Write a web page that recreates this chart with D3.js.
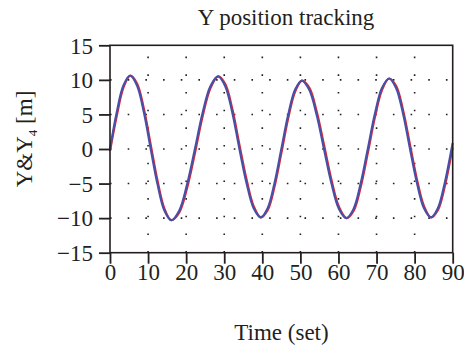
<!DOCTYPE html>
<html>
<head>
<meta charset="utf-8">
<script src="https://cdn.jsdelivr.net/npm/d3@7"></script>
<style>
  html, body { margin: 0; padding: 0; background: #fff; }
  svg { display: block; }
  text { font-family: "Liberation Serif", "Times New Roman", serif; fill: #231f20; }
</style>
</head>
<body>
<svg id="chart" width="464" height="349"></svg>
<script>
// ---- data ----
const timeSec = [0, 1.77, 3.53, 5.3, 7.1, 8.9, 10.7, 12.5, 14.3, 16.1, 18.17, 20.23, 22.3, 24.33, 26.37, 28.4, 30.27, 32.13, 34.0, 35.87, 37.73, 39.6, 41.4, 43.2, 45.0, 46.8, 48.6, 50.4, 52.33, 54.27, 56.2, 58.17, 60.13, 62.1, 63.97, 65.83, 67.7, 69.57, 71.43, 73.3, 75.13, 76.97, 78.8, 80.63, 82.47, 84.3, 86.1, 87.9, 89.7, 90];
const yActual = [0, 5.3, 9.18, 10.6, 9.18, 5.3, 0, -5.15, -8.92, -10.3, -8.92, -5.15, 0, 5.25, 9.09, 10.5, 9.09, 5.25, 0, -4.95, -8.57, -9.9, -8.57, -4.95, 0, 4.95, 8.57, 9.9, 8.57, 4.95, 0, -5.0, -8.66, -10.0, -8.66, -5.0, 0, 5.1, 8.83, 10.2, 8.83, 5.1, 0, -4.95, -8.57, -9.9, -8.57, -4.95, 0, 0.86];
const yRef = [-0.3, 4.78, 8.88, 10.6, 9.48, 5.82, 0.6, -4.63, -8.62, -10.3, -9.22, -5.67, -0.6, 4.73, 8.79, 10.5, 9.39, 5.77, 0.6, -4.43, -8.27, -9.9, -8.87, -5.47, -0.6, 4.43, 8.27, 9.9, 8.87, 5.47, 0.6, -4.48, -8.36, -10.0, -8.96, -5.52, -0.6, 4.58, 8.53, 10.2, 9.13, 5.62, 0.6, -4.43, -8.27, -9.9, -8.87, -5.47, -0.6, 0.26];
const xTicks = [0, 10, 20, 30, 40, 50, 60, 70, 80, 90];
const yTicks = [-15, -10, -5, 0, 5, 10, 15];
const xGrid = [10, 20, 30, 40, 50, 60, 70, 80];
const yGrid = [-10, -5, 0, 5, 10];
const titleText = "Y position tracking";
const xLabelText = "Time (set)";

// ---- layout ----
const svg = d3.select("#chart");
const L = 110, R = 452.7, T = 45.3, B = 252.7;
const x = d3.scaleLinear().domain([0, 90]).range([L, R]);
const y = d3.scaleLinear().domain([-15, 15]).range([B, T]);
const ink = "#231f20";
const dash = "1.6,16.08";

// dotted grid
const g = svg.append("g");
g.selectAll(".hg").data(yGrid).enter().append("line")
  .attr("x1", L).attr("x2", R).attr("y1", d => y(d)).attr("y2", d => y(d))
  .attr("stroke", ink).attr("stroke-width", 1.6).attr("stroke-dasharray", dash);
g.selectAll(".vg").data(xGrid).enter().append("line")
  .attr("x1", d => x(d)).attr("x2", d => x(d)).attr("y1", B).attr("y2", T)
  .attr("stroke", ink).attr("stroke-width", 1.6).attr("stroke-dasharray", dash);

// lines
const line = (vals) => d3.line()
  .x((d, i) => x(timeSec[i]))
  .y(d => y(d))
  .curve(d3.curveCatmullRom.alpha(0.5))(vals);

svg.append("path").attr("d", line(yRef)).attr("fill", "none")
  .attr("stroke", "#e3262b").attr("stroke-width", 2.2);
svg.append("path").attr("d", line(yActual)).attr("fill", "none")
  .attr("stroke", "#4650a8").attr("stroke-width", 2.2);

// frame
svg.append("rect").attr("x", L).attr("y", T).attr("width", R - L).attr("height", B - T)
  .attr("fill", "none").attr("stroke", ink).attr("stroke-width", 1.6);

// axes
const xAxis = d3.axisBottom(x).tickValues(xTicks).tickSize(11).tickPadding(0)
  .tickFormat(d3.format("d"));
const yAxis = d3.axisLeft(y).tickValues(yTicks).tickSize(11).tickPadding(6)
  .tickFormat(d => d < 0 ? "\u2212" + Math.abs(d) : String(d));

const gx = svg.append("g").attr("transform", `translate(0,${B})`).call(xAxis);
const gy = svg.append("g").attr("transform", `translate(${L},0)`).call(yAxis);
[gx, gy].forEach(ax => {
  ax.select(".domain").remove();
  ax.selectAll(".tick line").attr("stroke", ink).attr("stroke-width", 1.8);
  ax.selectAll(".tick text").attr("fill", ink)
    .style("font-family", '"Liberation Serif", serif').style("font-size", "23px");
});
gx.selectAll(".tick text").attr("dy", "0.71em");
gy.selectAll(".tick text").attr("dy", "0.34em");

// title & labels
svg.append("text").attr("x", 286).attr("y", 25).attr("text-anchor", "middle")
  .style("font-size", "23px").text(titleText);
svg.append("text").attr("x", 281.5).attr("y", 340).attr("text-anchor", "middle")
  .style("font-size", "23px").text(xLabelText);

const yl = svg.append("text")
  .attr("transform", "translate(32,139) rotate(-90)")
  .attr("text-anchor", "middle").style("font-size", "23px");
yl.append("tspan").text("Y&Y");
yl.append("tspan").attr("dy", 5).style("font-size", "13px").text("4");
yl.append("tspan").attr("dy", -5).text(" [m]");
</script>
</body>
</html>
